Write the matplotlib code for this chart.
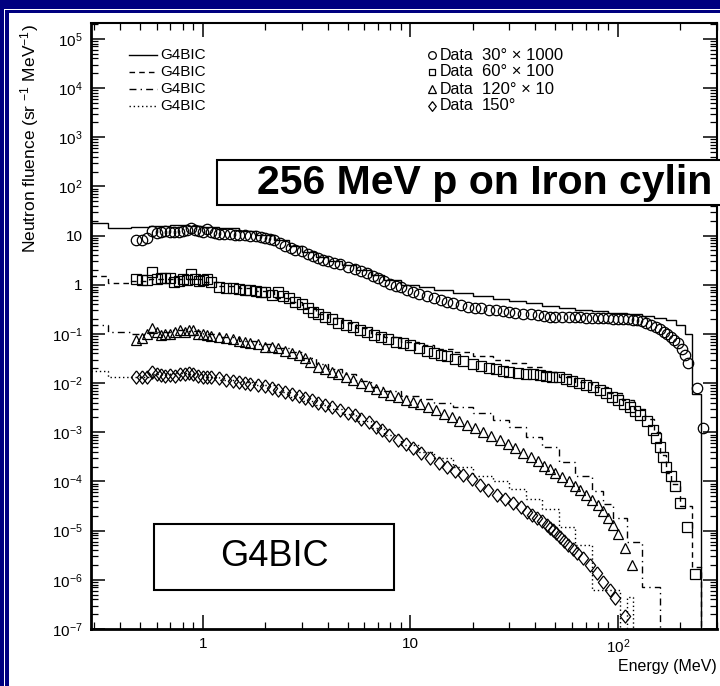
import numpy as np
import matplotlib.pyplot as plt
from matplotlib.patches import Rectangle
from matplotlib.lines import Line2D
from matplotlib.ticker import LogLocator, FixedLocator, FuncFormatter, NullFormatter

plt.rcParams['font.family'] = ['Liberation Sans', 'DejaVu Sans']
plt.rcParams['mathtext.default'] = 'regular'

e30 = [0.48, 0.51, 0.54, 0.57, 0.60, 0.63, 0.66, 0.70, 0.73, 0.77,
       0.80, 0.84, 0.88, 0.92, 0.96, 1.00, 1.05, 1.10, 1.15, 1.20,
       1.27, 1.35, 1.43, 1.50, 1.60, 1.70, 1.80, 1.90, 2.00, 2.10,
       2.20, 2.35, 2.50, 2.65, 2.80, 3.00, 3.20, 3.40, 3.60, 3.80,
       4.00, 4.30, 4.60, 5.00, 5.40, 5.80, 6.20, 6.60, 7.00, 7.50,
       8.00, 8.50, 9.00, 9.60, 10.3, 11.0, 12.0, 13.0, 14.0, 15.0,
       16.0, 17.5, 19.0, 20.5, 22.0, 24.0, 26.0, 28.0, 30.0, 32.0,
       35.0, 38.0, 41.0, 44.0, 47.0, 50.0, 54.0, 58.0, 62.0, 66.0,
       70.0, 75.0, 80.0, 85.0, 90.0, 95.0, 100, 106, 112, 118,
       124, 130, 137, 145, 152, 159, 166, 173, 180, 187,
       194, 203, 210, 217, 240, 257]
f30 = [8.0, 8.3, 8.8, 12.5, 11.5, 12.0, 12.5, 12.0, 12.0, 11.8,
       12.5, 13.0, 14.0, 13.0, 12.5, 12.0, 13.5, 12.0, 11.5, 11.0,
       11.0, 10.8, 10.5, 10.3, 10.2, 10.0, 9.8, 9.5, 9.0, 8.5,
       8.0, 7.0, 6.2, 5.6, 5.2, 4.8, 4.3, 3.8, 3.5, 3.2,
       3.0, 2.8, 2.6, 2.3, 2.1, 1.9, 1.7, 1.5, 1.4, 1.2,
       1.05, 0.95, 0.88, 0.80, 0.72, 0.66, 0.60, 0.53, 0.48, 0.45,
       0.42, 0.39, 0.36, 0.34, 0.33, 0.31, 0.30, 0.29, 0.28, 0.27,
       0.26, 0.25, 0.24, 0.23, 0.225, 0.22, 0.22, 0.22, 0.22, 0.22,
       0.215, 0.215, 0.21, 0.21, 0.21, 0.205, 0.20, 0.20, 0.20, 0.195,
       0.19, 0.18, 0.17, 0.155, 0.14, 0.125, 0.11, 0.10, 0.085, 0.075,
       0.065, 0.05, 0.038, 0.026, 0.0079, 0.0012]

e60 = [0.48, 0.51, 0.54, 0.57, 0.60, 0.63, 0.66, 0.70, 0.73, 0.77,
       0.80, 0.84, 0.88, 0.92, 0.96, 1.00, 1.05, 1.10, 1.20, 1.30,
       1.40, 1.50, 1.60, 1.70, 1.80, 1.90, 2.00, 2.15, 2.30, 2.45,
       2.60, 2.80, 3.00, 3.20, 3.40, 3.60, 3.90, 4.20, 4.50, 4.90,
       5.30, 5.70, 6.20, 6.70, 7.20, 7.80, 8.50, 9.20, 10.0, 11.0,
       12.0, 13.0, 14.0, 15.0, 16.5, 18.0, 20.0, 22.0, 24.0, 26.0,
       28.0, 30.0, 33.0, 36.0, 39.0, 42.0, 45.0, 48.0, 52.0, 56.0,
       60.0, 65.0, 70.0, 76.0, 82.0, 88.0, 94.0, 100, 107, 114,
       121, 128, 138, 147, 153, 159, 165, 171, 180, 188,
       199, 215, 235]
f60 = [1.3, 1.25, 1.25, 1.8, 1.3, 1.35, 1.4, 1.4, 1.15, 1.2,
       1.3, 1.25, 1.65, 1.3, 1.2, 1.25, 1.3, 1.15, 0.9, 0.85,
       0.85, 0.82, 0.8, 0.78, 0.75, 0.72, 0.7, 0.62, 0.7, 0.6,
       0.55, 0.45, 0.4, 0.33, 0.28, 0.25, 0.22, 0.2, 0.17, 0.15,
       0.14, 0.12, 0.11, 0.095, 0.085, 0.078, 0.07, 0.065, 0.06, 0.052,
       0.046, 0.041, 0.038, 0.035, 0.031, 0.028, 0.025, 0.022, 0.02, 0.019,
       0.018, 0.017, 0.016, 0.0155, 0.015, 0.0145, 0.014, 0.0135, 0.013, 0.012,
       0.011, 0.01, 0.0092, 0.0083, 0.0072, 0.0062, 0.0053, 0.0046, 0.0038, 0.0032,
       0.0027, 0.0022, 0.0017, 0.0011, 0.00075, 0.0005, 0.00032, 0.0002, 0.00013, 8e-5,
       3.7e-5, 1.2e-5, 1.3e-6]

e120 = [0.48, 0.51, 0.54, 0.57, 0.60, 0.63, 0.66, 0.70, 0.74, 0.78,
        0.82, 0.86, 0.90, 0.95, 1.00, 1.05, 1.10, 1.20, 1.30, 1.40,
        1.50, 1.60, 1.70, 1.85, 2.00, 2.15, 2.30, 2.50, 2.70, 2.90,
        3.10, 3.30, 3.60, 3.90, 4.20, 4.50, 4.90, 5.30, 5.80, 6.30,
        6.80, 7.40, 8.00, 8.70, 9.50, 10.3, 11.2, 12.2, 13.3, 14.5,
        15.8, 17.2, 18.8, 20.5, 22.5, 24.5, 27.0, 29.5, 32.0, 35.0,
        38.0, 41.0, 44.0, 47.0, 50.0, 54.0, 58.0, 62.0, 66.0, 70.0,
        75.0, 80.0, 85.0, 90.0, 95.0, 100, 108, 117]
f120 = [0.075, 0.083, 0.1, 0.13, 0.11, 0.095, 0.1, 0.1, 0.11, 0.12,
        0.11, 0.12, 0.12, 0.1, 0.1, 0.095, 0.09, 0.087, 0.083, 0.08,
        0.072, 0.07, 0.066, 0.062, 0.055, 0.054, 0.052, 0.046, 0.041, 0.037,
        0.033, 0.027, 0.021, 0.019, 0.017, 0.015, 0.013, 0.0115, 0.0101, 0.0088,
        0.0077, 0.0065, 0.0058, 0.0051, 0.0046, 0.0042, 0.0037, 0.0032, 0.0028, 0.0024,
        0.002, 0.0017, 0.0014, 0.0012, 0.001, 0.00085, 0.0007, 0.00058, 0.00048, 0.00038,
        0.00031, 0.00026, 0.00021, 0.00018, 0.00015, 0.000125, 0.0001, 8.2e-5, 6.6e-5, 5.4e-5,
        4.2e-5, 3.3e-5, 2.5e-5, 1.8e-5, 1.3e-5, 8.5e-6, 4.4e-6, 2.0e-6]

e150 = [0.48, 0.51, 0.54, 0.57, 0.60, 0.63, 0.66, 0.70, 0.74, 0.78,
        0.82, 0.86, 0.90, 0.95, 1.00, 1.05, 1.10, 1.20, 1.30, 1.40,
        1.50, 1.60, 1.70, 1.85, 2.00, 2.15, 2.30, 2.50, 2.70, 2.90,
        3.10, 3.35, 3.60, 3.90, 4.20, 4.60, 5.00, 5.40, 5.80, 6.30,
        6.80, 7.30, 7.90, 8.70, 9.50, 10.3, 11.3, 12.5, 13.8, 15.1,
        16.5, 18.0, 19.8, 21.7, 23.8, 26.2, 28.7, 31.3, 34.0, 36.5,
        38.7, 40.8, 43.0, 45.6, 47.2, 48.7, 50.5, 52.6, 55.0, 57.5,
        60.5, 63.5, 68.0, 73.0, 79.0, 85.0, 92.0, 97.0, 108]
f150 = [0.0133, 0.013, 0.0135, 0.0166, 0.015, 0.0145, 0.014, 0.0145, 0.014, 0.015,
        0.0155, 0.016, 0.015, 0.014, 0.013, 0.0135, 0.013, 0.0125, 0.0118, 0.0112,
        0.0106, 0.0102, 0.0097, 0.0092, 0.0086, 0.008, 0.0074, 0.0067, 0.0061, 0.0055,
        0.005, 0.0045, 0.004, 0.0036, 0.0032, 0.0028, 0.0025, 0.0022, 0.0019, 0.0016,
        0.0013, 0.0011, 0.00088, 0.0007, 0.00057, 0.00047, 0.00038, 0.0003, 0.00024, 0.0002,
        0.00016, 0.000135, 0.00011, 8.5e-5, 6.8e-5, 5.3e-5, 4.4e-5, 3.7e-5, 3.0e-5, 2.4e-5,
        2.1e-5, 1.8e-5, 1.55e-5, 1.3e-5, 1.15e-5, 1.03e-5, 9e-6, 7.4e-6, 6.2e-6, 5.1e-6,
        4.2e-6, 3.5e-6, 2.8e-6, 2.0e-6, 1.38e-6, 9.1e-7, 6.2e-7, 4.3e-7, 1.8e-7]

# G4BIC histograms: shared bin edges up to 75 MeV, then a tail per angle
edges_low = [0.29, 0.35, 0.45, 0.55, 0.7, 0.85, 1.0, 1.2, 1.5, 1.8, 2.2, 2.6, 3.0,
             3.5, 4.0, 4.7, 5.5, 6.5, 7.5, 9, 11, 13, 16, 20, 25, 30, 36, 43, 52, 62, 75]

g30_low = [18, 14.5, 15, 15.5, 16.5, 16, 15, 14, 12.5, 10.5,
           8, 6, 4.6, 3.7, 3.0, 2.5, 2.0, 1.6, 1.25, 1.0,
           0.88, 0.78, 0.68, 0.6, 0.52, 0.47, 0.42, 0.37, 0.34, 0.31]
g30_tail_edges = [90, 110, 130, 150, 170, 190, 210, 228, 250]
g30_tail = [0.29, 0.27, 0.25, 0.23, 0.21, 0.19, 0.15, 0.1, 0.006]

g60_low = [1.5, 1.1, 1.2, 1.3, 1.3, 1.3, 1.15, 0.95, 0.85, 0.75,
           0.55, 0.45, 0.33, 0.26, 0.21, 0.17, 0.13, 0.1, 0.085, 0.07,
           0.06, 0.05, 0.042, 0.036, 0.03, 0.026, 0.021, 0.017, 0.0135, 0.0105]
g60_tail_edges = [90, 105, 120, 135, 150, 160, 170, 180, 200, 228, 250]
g60_tail = [0.0085, 0.0062, 0.0045, 0.003, 0.0019, 0.001, 3.5e-4, 1.5e-4, 9e-5, 3.2e-5, 1.8e-6]

g120_low = [0.15, 0.11, 0.1, 0.11, 0.12, 0.115, 0.1, 0.085, 0.072, 0.062,
            0.052, 0.042, 0.032, 0.024, 0.019, 0.015, 0.011, 0.0085, 0.0068, 0.0055,
            0.0048, 0.004, 0.0032, 0.0025, 0.0018, 0.0013, 0.0008, 0.0005, 0.00025, 0.00013]
g120_tail_edges = [85, 95, 110, 130, 160]
g120_tail = [6.5e-5, 3.5e-5, 1.8e-5, 6e-6, 7e-7]

g150_low = [0.018, 0.0135, 0.0135, 0.015, 0.016, 0.0155, 0.0135, 0.0118, 0.0103, 0.009,
            0.0065, 0.0053, 0.0044, 0.0036, 0.003, 0.0023, 0.0017, 0.0012, 0.0009, 0.00055,
            0.0004, 0.0003, 0.0002, 0.00013, 0.0001, 7e-5, 4.5e-5, 2.7e-5, 1.2e-5, 5e-6]
g150_tail_edges = [102, 110, 118]
g150_tail = [6.2e-7, 1e-9, 4.5e-7]

data_labels = ['30° × 1000', '60° × 100', '120° × 10', '150°']
x_major = [1, 10, 100]
y_major = [1e-7, 1e-6, 1e-5, 1e-4, 1e-3, 1e-2, 1e-1, 1, 10, 1e2, 1e3, 1e4, 1e5]

W, H = 720, 686
fx = lambda x: x / W
fy = lambda y: 1 - y / H

fig = plt.figure(figsize=(7.2, 6.86), dpi=100)
navy = '#000080'

# slide frame (top and left bands)
fig.add_artist(Rectangle((0, fy(12.5)), 1, 12.5 / H, transform=fig.transFigure, color=navy, lw=0))
fig.add_artist(Rectangle((0, 0), 9 / W, 1, transform=fig.transFigure, color=navy, lw=0))
fig.add_artist(Rectangle((fx(4), fy(10)), 1, 1.2 / H, transform=fig.transFigure, color='white', lw=0))
fig.add_artist(Rectangle((fx(4), 0), 1.3 / W, fy(8.8), transform=fig.transFigure, color='white', lw=0))

ax = fig.add_axes([fx(91), fy(629), (717 - 91) / W, (629 - 23) / H])
ax.set_xscale('log')
ax.set_yscale('log')

styles = [('-', g30_low, g30_tail_edges, g30_tail),
          ((0, (4, 3)), g60_low, g60_tail_edges, g60_tail),
          ((0, (5, 3, 1, 3)), g120_low, g120_tail_edges, g120_tail),
          ((0, (1, 2)), g150_low, g150_tail_edges, g150_tail)]
for ls, low, tedges, tail in styles:
    edges = edges_low + tedges + [300]
    vals = low + tail + [1e-12]
    ax.stairs(vals, edges, baseline=None, color='black', lw=1.0, linestyle=ls)

# open diamond a bit wider than matplotlib's 'd'
diamond = [(0, 1), (0.78, 0), (0, -1), (-0.78, 0), (0, 1)]

mk = dict(ls='none', mfc='none', mec='black', mew=0.9, zorder=3)
ax.plot(e30, f30, marker='o', ms=7.5, **mk)
ax.plot(e60, f60, marker='s', ms=6.5, **mk)
ax.plot(e120, f120, marker='^', ms=7.5, **mk)
ax.plot(e150, f150, marker=diamond, ms=9.5, **mk)

ax.set_xlim(0.29, 300)
ax.set_ylim(1e-7, 2.1e5)


def pow_label(v, pos):
    e = int(round(np.log10(v)))
    if e == 0:
        return '1'
    if e == 1:
        return '10'
    return '$10^{%d}$' % e


for axis, majors in ((ax.xaxis, x_major), (ax.yaxis, y_major)):
    axis.set_major_locator(FixedLocator(majors))
    axis.set_minor_locator(LogLocator(base=10, subs=np.arange(2, 10), numticks=30))
    axis.set_major_formatter(FuncFormatter(pow_label))
    axis.set_minor_formatter(NullFormatter())

ax.tick_params(which='both', direction='in', top=True, right=True, labelsize=11)
ax.tick_params(which='major', length=10, width=1.1, pad=6)
ax.tick_params(which='minor', length=5, width=0.9)
for side in ['left', 'bottom']:
    ax.spines[side].set_linewidth(2.0)
for side in ['top', 'right']:
    ax.spines[side].set_linewidth(1.5)

fig.text(fx(30), fy(24), 'Neutron fluence (sr $^{-1}$ MeV$^{-1}$)', rotation=90,
         ha='center', va='top', fontsize=12.5)
fig.text(fx(717), fy(667), 'Energy (MeV)', ha='right', va='center', fontsize=11.5)

# legends
row_y = [55, 72, 89, 106]
line_ls = ['-', (0, (4, 3)), (0, (5, 3, 1, 3)), (0, (1, 2))]
markers = ['o', 's', '^', diamond]
msizes = [5.5, 5, 5.5, 7]
for y, ls, m, ms, lab in zip(row_y, line_ls, markers, msizes, data_labels):
    fig.add_artist(Line2D([fx(129), fx(157)], [fy(y), fy(y)], transform=fig.transFigure,
                          color='black', lw=1.0, linestyle=ls))
    fig.text(fx(160), fy(y), 'G4BIC', ha='left', va='center', fontsize=11)
    fig.add_artist(Line2D([fx(432)], [fy(y)], transform=fig.transFigure, marker=m, ms=ms,
                          mfc='none', mec='black', mew=0.9, ls='none'))
    fig.text(fx(440), fy(y), 'Data', ha='left', va='center', fontsize=11.5)
    fig.text(fx(482), fy(y), lab, ha='left', va='center', fontsize=12)

# title box, running off the right edge of the slide
fig.add_artist(Rectangle((fx(217), fy(205)), (740 - 217) / W, 45 / H, transform=fig.transFigure,
                         facecolor='white', edgecolor='black', lw=1.5, zorder=5))
fig.text(fx(257), fy(183), '256 MeV p on Iron cylin', ha='left', va='center',
         fontsize=29.5, fontweight='bold', zorder=6)

# model box
fig.add_artist(Rectangle((fx(154), fy(590)), (394 - 154) / W, 66 / H, transform=fig.transFigure,
                         facecolor='white', edgecolor='black', lw=1.5, zorder=5))
fig.text(fx(274), fy(557), 'G4BIC', ha='center', va='center', fontsize=26, zorder=6)

fig.savefig('out.png', dpi=100)
